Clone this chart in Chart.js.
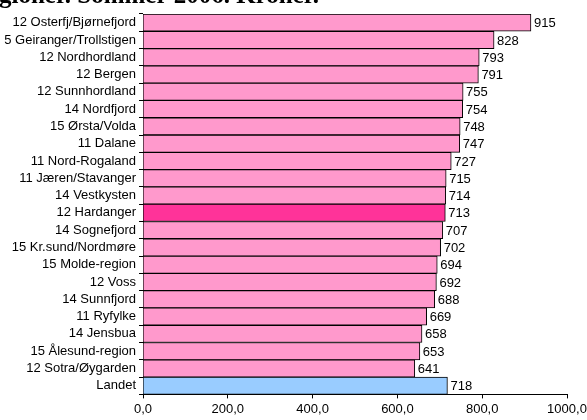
<!DOCTYPE html>
<html>
<head>
<meta charset="utf-8">
<script src="https://cdn.jsdelivr.net/npm/chart.js@4/dist/chart.umd.min.js"></script>
<style>
html,body{margin:0;padding:0;background:#fff;overflow:hidden;}
canvas{display:block;}
</style>
</head>
<body>
<canvas id="c" width="587" height="420"></canvas>
<script>
const titleText = "gioner. Sommer 2006. Kroner.";
const categories = [
  "12 Osterfj/Bjørnefjord","5 Geiranger/Trollstigen","12 Nordhordland","12 Bergen",
  "12 Sunnhordland","14 Nordfjord","15 Ørsta/Volda","11 Dalane","11 Nord-Rogaland",
  "11 Jæren/Stavanger","14 Vestkysten","12 Hardanger","14 Sognefjord","15 Kr.sund/Nordmøre",
  "15 Molde-region","12 Voss","14 Sunnfjord","11 Ryfylke","14 Jensbua","15 Ålesund-region",
  "12 Sotra/Øygarden","Landet"
];
const values = [915,828,793,791,755,754,748,747,727,715,714,713,707,702,694,692,688,669,658,653,641,718];
const xTicks = [0,200,400,600,800,1000];

const colors = categories.map(c => c === "12 Hardanger" ? "#FF3399" : (c === "Landet" ? "#99CCFF" : "#FF99CC"));
const FONT = "'Liberation Sans', Arial, sans-serif";

const titlePlugin = {
  id: 'cutTitle',
  afterDraw(chart) {
    const ctx = chart.ctx;
    ctx.save();
    ctx.font = "bold 25px 'Liberation Serif', 'Times New Roman', serif";
    ctx.fillStyle = "#000";
    ctx.textAlign = "left";
    ctx.textBaseline = "alphabetic";
    ctx.fillText(titleText, -1, 3);
    ctx.restore();
  }
};

const labelPlugin = {
  id: 'valueLabels',
  afterDatasetsDraw(chart) {
    const ctx = chart.ctx;
    const meta = chart.getDatasetMeta(0);
    ctx.save();
    ctx.font = "13px " + FONT;
    ctx.fillStyle = "#000";
    ctx.textAlign = "left";
    ctx.textBaseline = "middle";
    meta.data.forEach((bar, i) => {
      ctx.fillText(String(values[i]), bar.x + 3, bar.y + 1);
    });
    ctx.restore();
  }
};

new Chart(document.getElementById('c'), {
  type: 'bar',
  data: {
    labels: categories,
    datasets: [{
      data: values,
      backgroundColor: colors,
      borderColor: "#000",
      borderWidth: 1,
      barPercentage: 1,
      categoryPercentage: 1
    }]
  },
  options: {
    indexAxis: 'y',
    responsive: false,
    animation: false,
    events: [],
    layout: { padding: { top: 14, left: 0, right: 20, bottom: 0 } },
    plugins: { legend: { display: false }, tooltip: { enabled: false }, title: { display: false } },
    scales: {
      x: {
        type: 'linear',
        min: 0, max: 1000,
        afterBuildTicks(scale) { scale.ticks = xTicks.map(v => ({ value: v })); },
        afterFit(scale) { scale.paddingRight = 0; scale.paddingLeft = 0; },
        ticks: {
          color: "#000",
          font: { family: FONT, size: 13 },
          padding: 3,
          maxRotation: 0,
          callback: v => v.toFixed(1).replace('.', ',')
        },
        grid: { drawOnChartArea: false, drawTicks: true, tickLength: 4, color: "#000" },
        border: { color: "#000", width: 1 }
      },
      y: {
        offset: true,
        afterFit(scale) { scale.width = 143; },
        ticks: {
          color: "#000",
          font: { family: FONT, size: 13 },
          padding: 3,
          autoSkip: false
        },
        grid: { drawOnChartArea: false, drawTicks: true, tickLength: 4, color: "#000", offset: true },
        border: { color: "#000", width: 1 }
      }
    }
  },
  plugins: [titlePlugin, labelPlugin]
});
</script>
</body>
</html>
